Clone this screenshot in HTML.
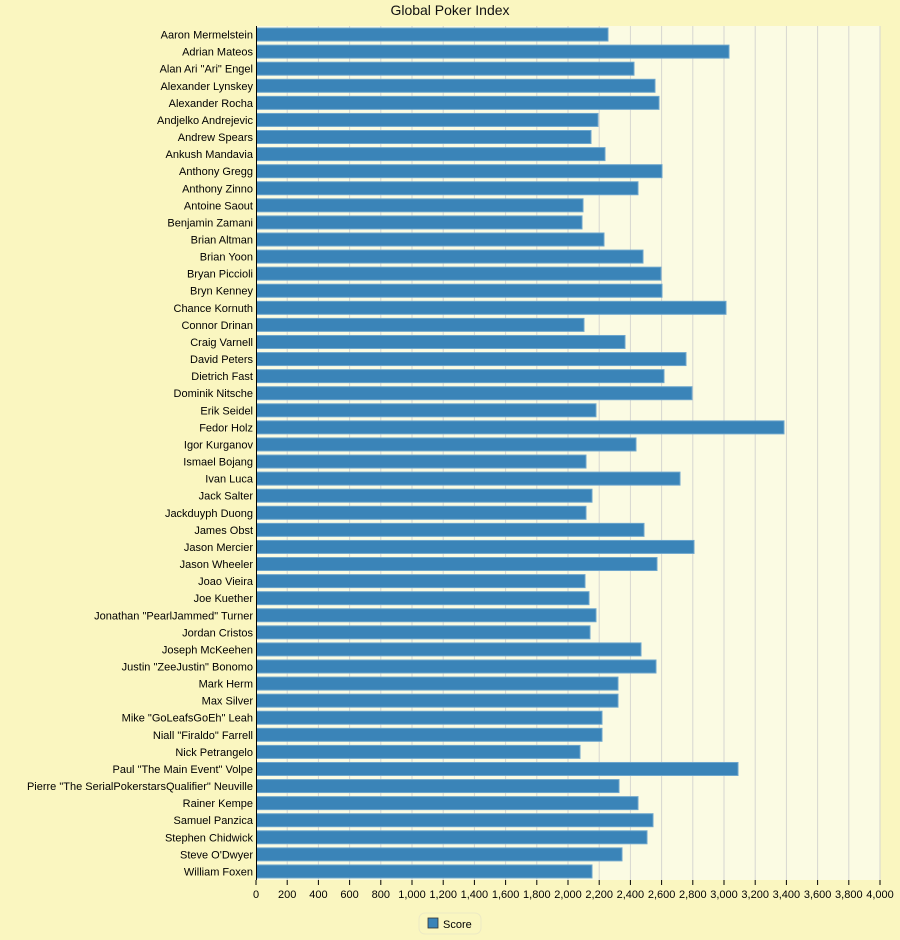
<!DOCTYPE html>
<html><head><meta charset="utf-8"><style>
body{margin:0;background:#faf6c0;}
svg{display:block;font-family:"Liberation Sans",sans-serif;}
</style></head><body>
<svg width="900" height="940" xmlns="http://www.w3.org/2000/svg">
<rect width="900" height="940" fill="#faf6c0"/>
<text x="450" y="15" text-anchor="middle" font-size="14" fill="#111">Global Poker Index</text>
<rect x="256" y="26" width="624" height="854" fill="#fbfbe3"/>
<g id="grid" stroke="#d6d6d0" stroke-width="1"></g>
<g id="bars"></g>
<line x1="256.5" y1="26" x2="256.5" y2="880" stroke="#000"/>
<g id="labels" font-size="11" fill="#000" text-anchor="end"></g>
<g id="ticks" font-size="11" fill="#000" text-anchor="middle"></g>
<rect x="419" y="913" width="62" height="21" rx="6" fill="#faf6c0" stroke="#ece9c4"/>
<rect x="428" y="918" width="10" height="10" fill="#3a84b8" stroke="#333" stroke-width="0.8"/>
<text x="443" y="928" font-size="11">Score</text>
</svg>
<script>
var names=["Aaron Mermelstein","Adrian Mateos","Alan Ari \"Ari\" Engel","Alexander Lynskey","Alexander Rocha","Andjelko Andrejevic","Andrew Spears","Ankush Mandavia","Anthony Gregg","Anthony Zinno","Antoine Saout","Benjamin Zamani","Brian Altman","Brian Yoon","Bryan Piccioli","Bryn Kenney","Chance Kornuth","Connor Drinan","Craig Varnell","David Peters","Dietrich Fast","Dominik Nitsche","Erik Seidel","Fedor Holz","Igor Kurganov","Ismael Bojang","Ivan Luca","Jack Salter","Jackduyph Duong","James Obst","Jason Mercier","Jason Wheeler","Joao Vieira","Joe Kuether","Jonathan \"PearlJammed\" Turner","Jordan Cristos","Joseph McKeehen","Justin \"ZeeJustin\" Bonomo","Mark Herm","Max Silver","Mike \"GoLeafsGoEh\" Leah","Niall \"Firaldo\" Farrell","Nick Petrangelo","Paul \"The Main Event\" Volpe","Pierre \"The SerialPokerstarsQualifier\" Neuville","Rainer Kempe","Samuel Panzica","Stephen Chidwick","Steve O'Dwyer","William Foxen"];
var ends=[608,729,634,655,659,598,591,605,662,638,583,582,604,643,661,662,726,584,625,686,664,692,596,784,636,586,680,592,586,644,694,657,585,589,596,590,641,656,618,618,602,602,580,738,619,638,653,647,622,592];
var NS="http://www.w3.org/2000/svg";
function el(t,a,p,txt){var e=document.createElementNS(NS,t);for(var k in a)e.setAttribute(k,a[k]);if(txt!=null)e.textContent=txt;document.getElementById(p).appendChild(e);}
for(var i=1;i<=20;i++){var x=256+i*31.2;el("line",{x1:x,y1:26,x2:x,y2:880},"grid");}
for(var i=0;i<=20;i++){var x=256+i*31.2;el("line",{x1:x,y1:880,x2:x,y2:885,stroke:"#000"},"grid");
var v=i*200;el("text",{x:x,y:898},"ticks",v>=1000?Math.floor(v/1000)+","+String(v%1000).padStart(3,"0"):String(v));}
var band=854/50;
for(var i=0;i<50;i++){var c=26+band*(i+0.5);
el("rect",{x:256.5,y:c-6.5,width:ends[i]-256.5,height:13,fill:"#3a84b8",stroke:"#6ea6cc","stroke-width":1},"bars");
el("text",{x:253,y:c+4},"labels",names[i]);}
</script>
</body></html>
